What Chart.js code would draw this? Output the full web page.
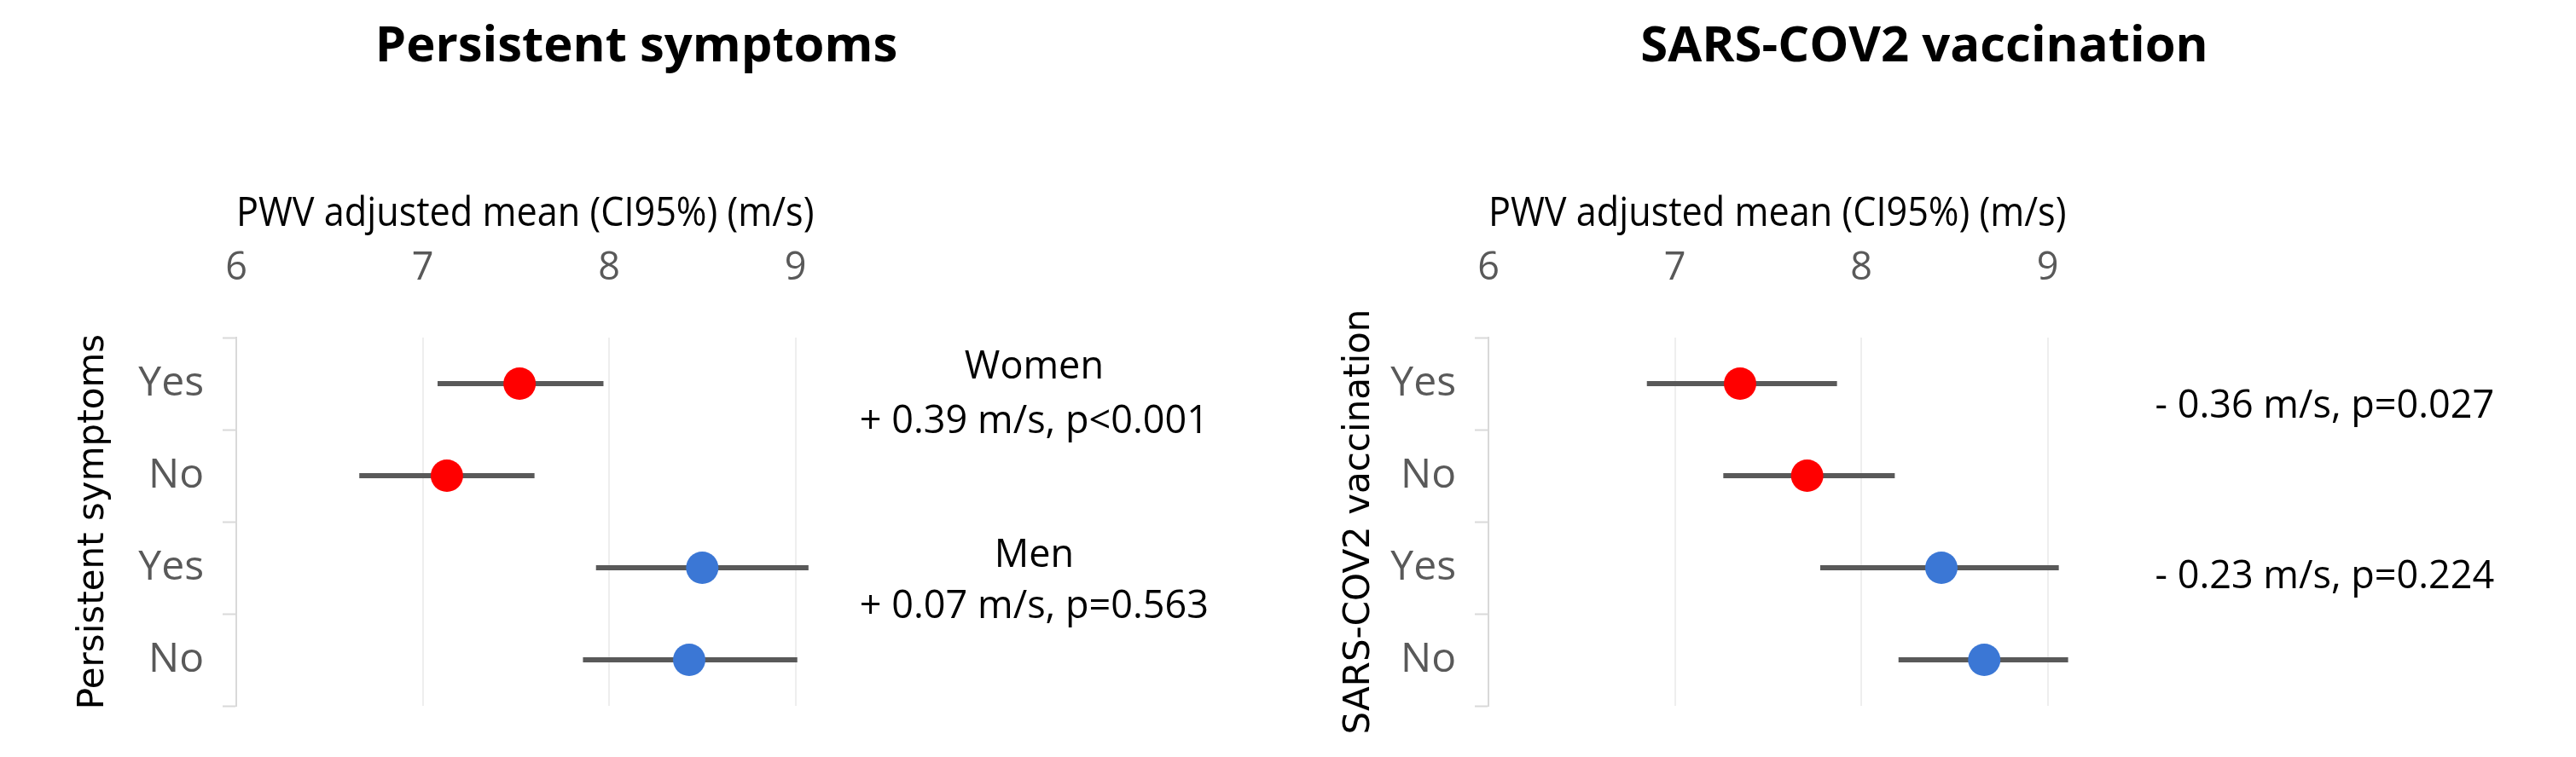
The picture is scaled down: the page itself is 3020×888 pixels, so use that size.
<!DOCTYPE html>
<html>
<head>
<meta charset="utf-8">
<script src="https://cdn.jsdelivr.net/npm/chart.js@4.4.1/dist/chart.umd.min.js"></script>
<style>
  body { margin: 0; background: #fff; }
  .wrap { display: flex; width: 3020px; height: 888px; }
  canvas { display: block; }
</style>
</head>
<body>
<div class="wrap">
  <canvas id="symptomsChart" width="1510" height="888"></canvas>
  <canvas id="vaccChart" width="1510" height="888"></canvas>
</div>
<script>
// rows, top to bottom: women yes / no, men yes / no
const rowLabels = ['Yes', 'No', 'Yes', 'No'];
const xTickValues = [6, 7, 8, 9];

// PWV adjusted mean and CI95% - persistent symptoms
const symptomsMean = [7.52, 7.13, 8.50, 8.43];
const symptomsLow  = [7.08, 6.66, 7.93, 7.86];
const symptomsHigh = [7.97, 7.60, 9.07, 9.01];
const symptomsNotes = ['Women', '+ 0.39 m/s, p<0.001', 'Men', '+ 0.07 m/s, p=0.563'];

// PWV adjusted mean and CI95% - SARS-COV2 vaccination
const vaccMean = [7.35, 7.71, 8.43, 8.66];
const vaccLow  = [6.85, 7.26, 7.78, 8.20];
const vaccHigh = [7.87, 8.18, 9.06, 9.11];
const vaccNotes = ['- 0.36 m/s, p=0.027', '- 0.23 m/s, p=0.224'];

const rowColors = ['#ff0000', '#ff0000', '#3b77d5', '#3b77d5'];
const FONT = 'Open Sans';

// texts on the right of each plot
const notesPlugin = {
    id: 'notes',
    afterDraw(chart, args, opts) {
        const { ctx, chartArea } = chart;
        const yv = chart.scales.yv;
        ctx.save();
        ctx.font = '45px "' + FONT + '"';
        ctx.fillStyle = '#000';
        ctx.textAlign = 'center';
        ctx.textBaseline = 'alphabetic';
        opts.items.forEach(item => {
            ctx.fillText(item.text, chartArea.right + opts.dx, yv.getPixelForValue(item.row) + item.dy);
        });
        ctx.restore();
    }
};

function makeChart(id, p) {
    const bars = rowLabels.map((_, i) => ({
        type: 'line',
        data: [{ x: p.low[i], y: i }, { x: p.high[i], y: i }],
        yAxisID: 'yv',
        borderColor: '#595959',
        borderWidth: 6,
        borderCapStyle: 'butt',
        pointRadius: 0,
        clip: false,
        order: 1
    }));

    new Chart(document.getElementById(id), {
        type: 'scatter',
        data: {
            datasets: [{
                data: p.mean.map((m, i) => ({ x: m, y: i })),
                yAxisID: 'yv',
                backgroundColor: rowColors,
                borderWidth: 0,
                pointRadius: 19,
                pointHoverRadius: 19,
                clip: false,
                order: 0
            }].concat(bars)
        },
        options: {
            responsive: false,
            animation: false,
            events: [],
            layout: { padding: { top: 0, left: 0, right: 18, bottom: 60 } },
            plugins: {
                legend: { display: false },
                tooltip: { enabled: false },
                title: {
                    display: true,
                    text: p.title,
                    color: '#000',
                    font: { family: FONT, size: 58, weight: 'bold' },
                    padding: { top: 20.7, bottom: 128.3 }
                },
                notes: { dx: p.noteDx, items: p.notes }
            },
            scales: {
                x: {
                    type: 'linear',
                    position: 'top',
                    min: 6,
                    max: 9.1,
                    afterBuildTicks: s => { s.ticks = xTickValues.map(v => ({ value: v })); },
                    afterFit: s => { s.height = 177.4; },
                    border: { display: false },
                    grid: {
                        drawTicks: false,
                        lineWidth: 2,
                        color: c => (c.tick && c.tick.value === 6) ? 'rgba(0,0,0,0)' : '#eeeeee'
                    },
                    ticks: { padding: 54, maxRotation: 0, color: '#595959', font: { family: FONT, size: 45 } },
                    title: {
                        display: true,
                        text: 'PWV adjusted mean (CI95%) (m/s)',
                        color: '#000',
                        font: { family: FONT, size: 47 },
                        padding: { top: 5, bottom: 0 }
                    }
                },
                y: {
                    type: 'category',
                    labels: rowLabels,
                    position: 'left',
                    offset: true,
                    afterFit: s => { s.width = p.yAxisWidth; },
                    border: { display: true, color: '#d9d9d9', width: 2 },
                    grid: {
                        offset: true,
                        drawOnChartArea: false,
                        drawTicks: true,
                        tickLength: 16,
                        tickColor: '#d9d9d9',
                        tickWidth: 2
                    },
                    ticks: { padding: 22, color: '#595959', font: { family: FONT, size: 48 } },
                    title: {
                        display: true,
                        text: p.title,
                        color: '#000',
                        font: { family: 'DejaVu Sans', size: 42 },
                        padding: { top: p.yTitlePad, bottom: 0 }
                    }
                },
                yv: { type: 'linear', display: false, min: -0.5, max: 3.5, reverse: true },
                y2: {
                    type: 'linear',
                    position: 'right',
                    afterFit: s => { s.width = p.rightGap; },
                    grid: { display: false },
                    border: { display: false },
                    ticks: { display: false }
                }
            }
        },
        plugins: [notesPlugin]
    });
}

makeChart('symptomsChart', {
    title: 'Persistent symptoms',
    mean: symptomsMean, low: symptomsLow, high: symptomsHigh,
    yAxisWidth: 277, yTitlePad: 85, rightGap: 537.6, noteDx: 258,
    notes: [
        { text: symptomsNotes[0], row: 0, dy: -6 },
        { text: symptomsNotes[1], row: 0, dy: 58 },
        { text: symptomsNotes[2], row: 2, dy: -1 },
        { text: symptomsNotes[3], row: 2, dy: 59 }
    ]
});

makeChart('vaccChart', {
    title: 'SARS-COV2 vaccination',
    mean: vaccMean, low: vaccLow, high: vaccHigh,
    yAxisWidth: 235, yTitlePad: 59, rightGap: 579.6, noteDx: 303,
    notes: [
        { text: vaccNotes[0], row: 0, dy: 40 },
        { text: vaccNotes[1], row: 2, dy: 24 }
    ]
});
</script>
</body>
</html>
